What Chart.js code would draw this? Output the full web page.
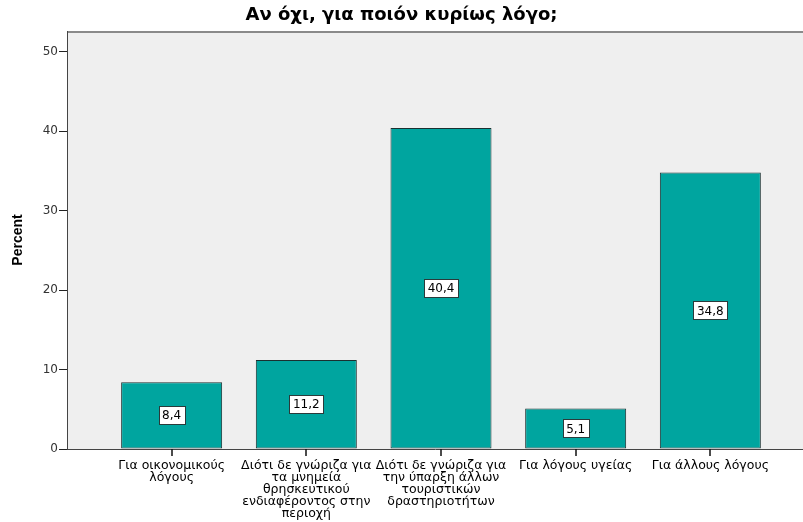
<!DOCTYPE html>
<html>
<head>
<meta charset="utf-8">
<script src="https://cdn.jsdelivr.net/npm/chart.js@4"></script>
<style>
  html, body { margin: 0; padding: 0; background: #ffffff; }
  #wrap { width: 803px; height: 522px; }
</style>
</head>
<body>
<div id="wrap"><canvas id="c" width="803" height="522"></canvas></div>
<script>
const chartTitle = "Αν όχι, για ποιόν κυρίως λόγο;";
const yTitle = "Percent";
const categories = [
  ["Για οικονομικούς", "λόγους"],
  ["Διότι δε γνώριζα για", "τα μνημεία", "θρησκευτικού", "ενδιαφέροντος στην", "περιοχή"],
  ["Διότι δε γνώριζα για", "την ύπαρξη άλλων", "τουριστικών", "δραστηριοτήτων"],
  ["Για λόγους υγείας"],
  ["Για άλλους λόγους"]
];
const percents = [8.4, 11.2, 40.4, 5.1, 34.8];
const yTicks = [0, 10, 20, 30, 40, 50];

const FONT = "'DejaVu Sans', sans-serif";
const FONT2 = "'Liberation Sans', Arial, sans-serif";

const bgPlugin = {
  id: 'plotBg',
  beforeDraw(chart) {
    const a = chart.chartArea, ctx = chart.ctx;
    ctx.save();
    ctx.fillStyle = '#EFEFEF';
    ctx.fillRect(a.left, a.top, a.right - a.left, a.bottom - a.top);
    ctx.strokeStyle = '#8a8a8a';
    ctx.lineWidth = 2;
    ctx.beginPath();
    ctx.moveTo(a.left, a.top + 1);
    ctx.lineTo(a.right, a.top + 1);
    ctx.stroke();
    ctx.restore();
  },
  afterDraw(chart) {
    const a = chart.chartArea, ctx = chart.ctx, xs = chart.scales.x;
    ctx.save();
    ctx.strokeStyle = '#111';
    ctx.lineWidth = 1.5;
    ctx.beginPath();
    categories.forEach((_, i) => {
      const px = Math.round(xs.getPixelForValue(i));
      ctx.moveTo(px, a.bottom);
      ctx.lineTo(px, a.bottom + 7);
    });
    ctx.stroke();
    ctx.restore();
  }
};

const valuePlugin = {
  id: 'valueBoxes',
  afterDatasetsDraw(chart) {
    const ctx = chart.ctx;
    const meta = chart.getDatasetMeta(0);
    ctx.save();
    ctx.font = '12px ' + FONT;
    ctx.textAlign = 'center';
    ctx.textBaseline = 'middle';
    meta.data.forEach((bar, i) => {
      const txt = percents[i].toFixed(1).replace('.', ',');
      const cx = bar.x;
      const cy = (bar.y + bar.base) / 2;
      const w = Math.round(ctx.measureText(txt).width + 7);
      const h = 18;
      const x0 = Math.round(cx - w / 2) + 0.5, y0 = Math.round(cy - h / 2) + 0.5;
      ctx.fillStyle = '#ffffff';
      ctx.fillRect(x0, y0, w, h);
      ctx.strokeStyle = '#2a3a3a';
      ctx.lineWidth = 1;
      ctx.strokeRect(x0, y0, w, h);
      ctx.fillStyle = '#000000';
      ctx.fillText(txt, cx, cy + 1);
    });
    ctx.restore();
  }
};

new Chart(document.getElementById('c'), {
  type: 'bar',
  data: {
    datasets: [{
      data: percents.map((v, i) => ({ x: i, y: v })),
      backgroundColor: '#00A59F',
      borderColor: '#1a3030',
      borderWidth: 1,
      borderSkipped: false,
      categoryPercentage: 1,
      barPercentage: 0.75
    }]
  },
  options: {
    responsive: false,
    animation: false,
    layout: { padding: { left: 0, right: 0, top: 0, bottom: 0 } },
    plugins: {
      legend: { display: false },
      tooltip: { enabled: false },
      title: {
        display: true,
        text: chartTitle,
        color: '#000',
        font: { family: FONT, size: 18, weight: 'bold' },
        padding: { top: 5, bottom: 4.4 }
      }
    },
    scales: {
      x: {
        type: 'linear',
        offset: false,
        min: -0.777,
        max: 4.688,
        afterBuildTicks(scale) { scale.ticks = categories.map((_, i) => ({ value: i })); },
        afterFit(scale) { scale.height = 73; },
        ticks: {
          autoSkip: false,
          maxRotation: 0,
          minRotation: 0,
          padding: 3,
          color: '#000',
          font: { family: FONT, size: 12.5, lineHeight: '12px' },
          callback: (v) => categories[v]
        },
        grid: { display: false },
        border: { display: true, color: '#444', width: 1 }
      },
      y: {
        min: 0,
        max: 52.6,
        afterBuildTicks(scale) { scale.ticks = yTicks.map(v => ({ value: v })); },
        afterFit(scale) { scale.width = 67; },
        ticks: {
          color: '#333',
          padding: 1,
          font: { family: FONT, size: 12 }
        },
        title: {
          display: true,
          text: yTitle,
          color: '#000',
          font: { family: FONT2, size: 14, weight: 'bold' },
          padding: { top: 10, bottom: 4 }
        },
        grid: { display: true, drawOnChartArea: false, drawTicks: true, tickLength: 8, tickColor: '#222', color: '#333' },
        border: { display: true, color: '#444', width: 1 }
      }
    }
  },
  plugins: [bgPlugin, valuePlugin]
});
</script>
</body>
</html>
